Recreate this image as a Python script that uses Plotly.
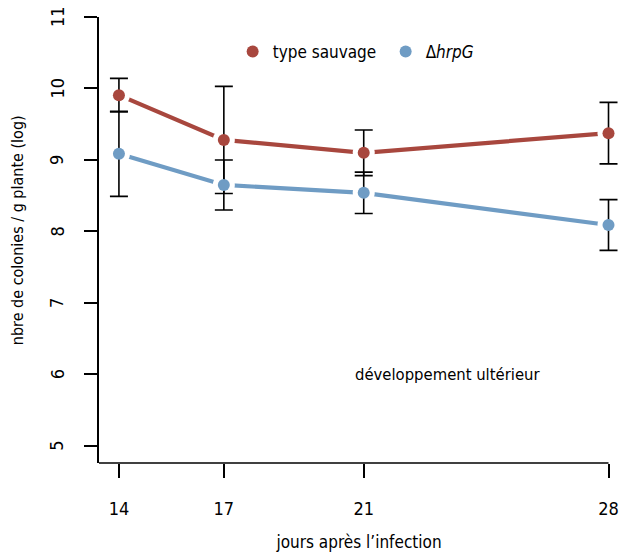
import plotly.graph_objects as go

days = [14, 17, 21, 28]
wild = [9.906, 9.28, 9.10, 9.375]
wild_err = [0.235, 0.75, 0.32, 0.43]
mutant = [9.086, 8.65, 8.54, 8.09]
mutant_err = [0.595, 0.35, 0.29, 0.355]
y_ticks = [5, 6, 7, 8, 9, 10, 11]
names = ["type sauvage", "Δ<i>hrpG</i>"]

RED = "#A8473E"
BLUE = "#6F9CC4"
FONT = "DejaVu Sans Condensed, Liberation Sans Narrow, sans-serif"

X_MIN = 13.43
X_MAX = 28.3
PLOT_W = 520  # px width of plotting area

fig = go.Figure()

# connecting lines with a white gap around each point
for vals, col in [(wild, RED), (mutant, BLUE)]:
    fig.add_trace(go.Scatter(
        x=days, y=vals, mode="lines+markers",
        line=dict(color=col, width=4.2),
        marker=dict(color="white", size=22, line=dict(width=0)),
        showlegend=False, hoverinfo="skip", cliponaxis=False))

# error bars
for vals, err in [(wild, wild_err), (mutant, mutant_err)]:
    fig.add_trace(go.Scatter(
        x=days, y=vals, mode="markers",
        marker=dict(size=1, opacity=0),
        error_y=dict(type="data", array=err, visible=True,
                     color="black", thickness=1.6, width=9),
        showlegend=False, hoverinfo="skip", cliponaxis=False))

# points
for vals, col, nm in [(wild, RED, names[0]), (mutant, BLUE, names[1])]:
    fig.add_trace(go.Scatter(
        x=days, y=vals, mode="markers", name=nm,
        marker=dict(color=col, size=12, line=dict(width=0)),
        cliponaxis=False))

fig.add_annotation(x=23.4, y=6.0, text="développement ultérieur",
                   showarrow=False, font=dict(size=16.5, color="black", family=FONT))

# rotated y tick labels
for v in y_ticks:
    fig.add_annotation(xref="paper", yref="y", x=-42 / PLOT_W, y=v, text=str(v),
                       textangle=-90, showarrow=False, xanchor="center", yanchor="middle",
                       font=dict(size=18, color="black", family=FONT))

# y axis title
fig.add_annotation(xref="paper", yref="paper", x=-82 / PLOT_W, y=0.522,
                   text="nbre de colonies / g plante (log)", textangle=-90,
                   showarrow=False, xanchor="center", yanchor="middle",
                   font=dict(size=16, color="black", family=FONT))

# x axis line from the left edge to the last day
fig.add_shape(type="line", xref="x", yref="paper", x0=X_MIN, x1=days[-1], y0=0, y1=0,
              line=dict(color="black", width=1.5))

fig.update_layout(
    width=624, height=552,
    margin=dict(l=99, r=5, t=17, b=89, autoexpand=False),
    plot_bgcolor="white", paper_bgcolor="white",
    font=dict(family=FONT, size=16, color="black"),
    legend=dict(orientation="h", x=0.257, y=0.9215, xanchor="left", yanchor="middle",
                font=dict(size=17, family=FONT), bgcolor="rgba(0,0,0,0)",
                itemwidth=30, entrywidth=108, entrywidthmode="pixels"),
    xaxis=dict(range=[X_MIN, X_MAX], tickvals=days, ticktext=[str(d) for d in days],
               showline=False, automargin=False,
               ticks="outside", ticklen=14, tickwidth=1.5, tickcolor="black",
               ticklabelstandoff=15, showgrid=False, zeroline=False,
               tickfont=dict(size=18),
               title=dict(text="jours après l’infection", font=dict(size=17), standoff=21)),
    yaxis=dict(range=[4.76, 11], tickvals=y_ticks, automargin=False,
               showline=True, linecolor="black", linewidth=1.5,
               ticks="outside", ticklen=13, tickwidth=1.5, tickcolor="black",
               showticklabels=False, showgrid=False, zeroline=False),
)

fig.write_html("out.html")
